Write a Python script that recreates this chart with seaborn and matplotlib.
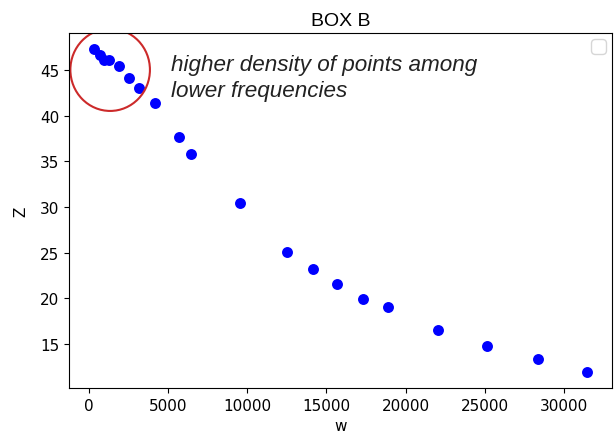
import matplotlib
matplotlib.use("Agg")
import matplotlib.pyplot as plt
import seaborn as sns
import pandas as pd
from matplotlib.patches import Ellipse

# Values
w = [314, 734, 1004, 1317, 1926, 2535, 3181, 4184, 5709, 6487,
     9580, 12547, 14141, 15665, 17315, 18883, 22064, 25134, 28338, 31468]
z = [47.27, 46.64, 46.03, 46.03, 45.37, 44.12, 43.03, 41.38, 37.65, 35.83,
     30.46, 25.09, 23.22, 21.54, 19.93, 19.09, 16.57, 14.81, 13.31, 11.96]

df = pd.DataFrame({"w": w, "Z": z})

plt.rcParams["xtick.labelsize"] = 11
plt.rcParams["ytick.labelsize"] = 11
plt.rcParams["axes.labelsize"] = 11

fig = plt.figure(figsize=(6.15, 4.35), dpi=100)
ax = fig.add_axes([0.112, 0.106, 0.883, 0.816])

sns.scatterplot(data=df, x="w", y="Z", color="blue", s=62, linewidth=0, ax=ax)

# red circle around the dense cluster (drawn as ellipse in data units)
ax.add_patch(Ellipse((1361, 45), width=5020, height=9.0, fill=False,
                     edgecolor="#cc2a2a", linewidth=1.5))

ax.text(5200, 44.15, "higher density of points among\nlower frequencies",
        fontsize=16.2, style="italic", family="Liberation Sans",
        color="#222222", va="center", linespacing=1.32)

ax.set_title("BOX B", fontsize=14, family="Liberation Sans")
ax.set_xlabel("w", labelpad=4)
ax.set_ylabel("Z", labelpad=8)
ax.legend(loc="upper right", fontsize=13, borderaxespad=0.35)

fig.savefig("out.png", dpi=100)
